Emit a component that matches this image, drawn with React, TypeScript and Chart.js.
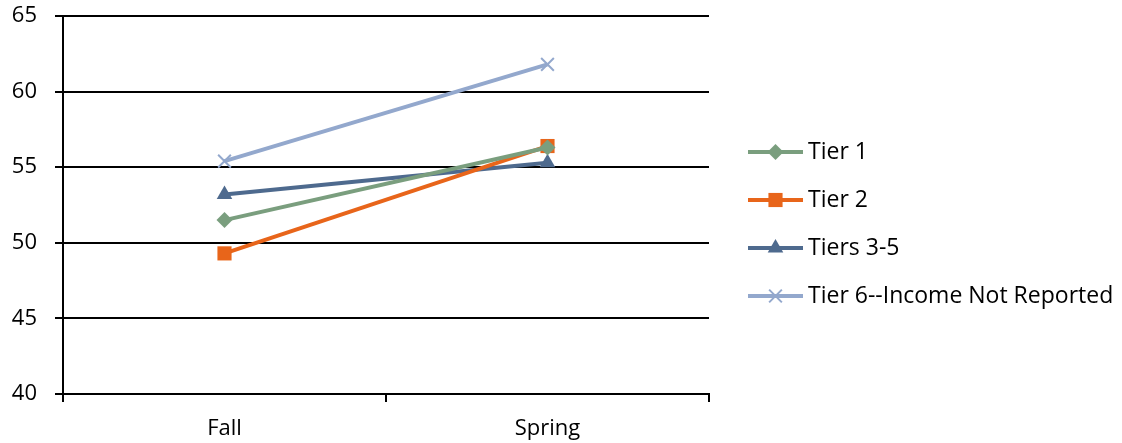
import React, { useEffect, useRef } from 'react';
import { Chart, registerables } from 'chart.js';

Chart.register(...registerables);

const categories = ['Fall', 'Spring'];
const tier1 = [51.5, 56.3];
const tier2 = [49.3, 56.4];
const tiers3to5 = [53.2, 55.3];
const tier6 = [55.4, 61.8];
const seriesNames = ['Tier 1', 'Tier 2', 'Tiers 3-5', 'Tier 6--Income Not Reported'];
const seriesColors = ['#7A9E7E', '#E8651A', '#4E6A8E', '#93A8CD'];
const pointStyles = ['rectRot', 'rect', 'triangle', 'crossRot'];
const pointRadii = [8, 10, 9, 9];
const yMin = 40;
const yMax = 65;
const yStep = 5;

const FONT = '"Open Sans", sans-serif';

function drawMarker(ctx: CanvasRenderingContext2D, style: string, x: number, y: number, r: number, color: string) {
  ctx.save();
  ctx.fillStyle = color;
  ctx.strokeStyle = color;
  ctx.beginPath();
  if (style === 'rectRot') {
    ctx.moveTo(x - r, y);
    ctx.lineTo(x, y - r);
    ctx.lineTo(x + r, y);
    ctx.lineTo(x, y + r);
    ctx.closePath();
    ctx.fill();
  } else if (style === 'rect') {
    const s = Math.SQRT1_2 * r;
    ctx.rect(x - s, y - s, 2 * s, 2 * s);
    ctx.fill();
  } else if (style === 'triangle') {
    ctx.moveTo(x, y - r);
    ctx.lineTo(x + r * Math.cos(Math.PI / 6), y + r * 0.5);
    ctx.lineTo(x - r * Math.cos(Math.PI / 6), y + r * 0.5);
    ctx.closePath();
    ctx.fill();
  } else if (style === 'crossRot') {
    const d = r * Math.SQRT1_2;
    ctx.lineWidth = 2;
    ctx.moveTo(x - d, y - d);
    ctx.lineTo(x + d, y + d);
    ctx.moveTo(x - d, y + d);
    ctx.lineTo(x + d, y - d);
    ctx.stroke();
  }
  ctx.restore();
}

const legendPlugin = {
  id: 'customLegend',
  afterDraw(chart: any) {
    const ctx = chart.ctx as CanvasRenderingContext2D;
    const area = chart.chartArea;
    const x0 = area.right + 39;
    const lineLen = 55;
    const startY = 152;
    const gap = 48;
    chart.data.datasets.forEach((ds: any, i: number) => {
      const y = startY + i * gap;
      ctx.save();
      ctx.strokeStyle = ds.borderColor;
      ctx.lineWidth = 4;
      ctx.beginPath();
      ctx.moveTo(x0, y);
      ctx.lineTo(x0 + lineLen, y);
      ctx.stroke();
      ctx.restore();
      drawMarker(ctx, ds.pointStyle, x0 + lineLen / 2, y, ds.pointRadius, ds.borderColor);
      ctx.save();
      ctx.fillStyle = '#000';
      ctx.font = `23px ${FONT}`;
      ctx.textBaseline = 'middle';
      ctx.textAlign = 'left';
      ctx.fillText(ds.label, x0 + lineLen + 5, y);
      ctx.restore();
    });
  },
};

export default function App() {
  const ref = useRef<HTMLCanvasElement | null>(null);

  useEffect(() => {
    document.body.style.margin = '0';
    const canvas = ref.current;
    if (!canvas) return;
    const values = [tier1, tier2, tiers3to5, tier6];
    const chart = new Chart(canvas, {
      type: 'line',
      data: {
        labels: categories,
        datasets: values.map((v, i) => ({
          label: seriesNames[i],
          data: v,
          borderColor: seriesColors[i],
          backgroundColor: seriesColors[i],
          borderWidth: 4,
          pointStyle: pointStyles[i] as any,
          pointRadius: pointRadii[i],
          pointBorderWidth: pointStyles[i] === 'crossRot' ? 2 : 0,
          pointBackgroundColor: seriesColors[i],
          pointBorderColor: seriesColors[i],
          tension: 0,
          fill: false,
        })),
      },
      options: {
        animation: false,
        responsive: false,
        maintainAspectRatio: false,
        layout: { padding: { top: 16, right: 413, left: 0, bottom: 0 } },
        plugins: {
          legend: { display: false },
          tooltip: { enabled: false },
        },
        scales: {
          x: {
            type: 'category',
            offset: true,
            afterFit: (s: any) => {
              s.height = 49;
            },
            grid: {
              offset: true,
              drawOnChartArea: false,
              drawTicks: true,
              tickLength: 8,
              color: '#000',
              lineWidth: 2,
            },
            border: { display: true, color: '#000', width: 2 },
            ticks: {
              color: '#000',
              font: { family: FONT, size: 22 },
              padding: 14,
            },
          },
          y: {
            min: yMin,
            max: yMax,
            afterFit: (s: any) => {
              s.width = 63;
              s.paddingTop = 0;
              s.paddingBottom = 0;
            },
            grid: {
              color: '#000',
              lineWidth: 2,
              drawTicks: true,
              tickLength: 8,
            },
            border: { display: true, color: '#000', width: 2 },
            ticks: {
              stepSize: yStep,
              color: '#000',
              font: { family: FONT, size: 22 },
              padding: 18,
            },
          },
        },
      },
      plugins: [legendPlugin],
    });
    return () => chart.destroy();
  }, []);

  return (
    <div style={{ width: 1122, height: 443, background: '#fff' }}>
      <canvas ref={ref} width={1122} height={443} style={{ display: 'block', width: 1122, height: 443 }} />
    </div>
  );
}
